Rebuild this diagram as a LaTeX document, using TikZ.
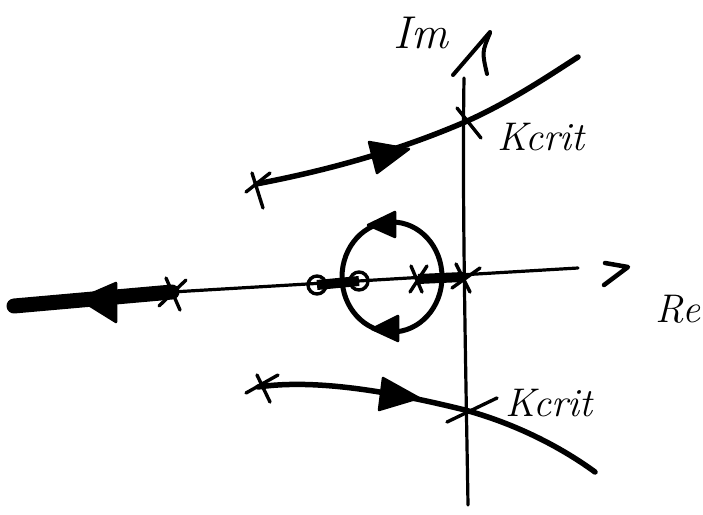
\documentclass[tikz,border=0pt]{standalone}
\usetikzlibrary{calc}
\begin{document}
\begin{tikzpicture}[x=1pt,y=-1pt,
  axisline/.style={line width=3.2pt,line cap=round},
  locus/.style={line width=5.5pt,line cap=round},
  thickseg/.style={line width=10pt},
  polemark/.style={line width=3.4pt,line cap=round},
  zeromark/.style={line width=3.4pt},
  headfill/.style={fill=black,draw=black,line width=2.5pt,line join=round},
  lbl/.style={font=\fontsize{40}{40}\selectfont\itshape,inner sep=0pt}]
\useasboundingbox (0,0) rectangle (703,514);
% key points
\coordinate (pL) at (172,292);
\coordinate (z1) at (317,285);
\coordinate (z2) at (359,281);
\coordinate (p1) at (418,279);
\coordinate (p0) at (463,277);
\coordinate (reEnd) at (578,268);
\coordinate (imTop) at (464,78);
\coordinate (imBot) at (468,505);
\coordinate (kUp) at (465,122);
\coordinate (kLo) at (465,410);
\coordinate (pU) at (256,184);
\coordinate (pD) at (258,387);
\coordinate (uEnd) at (578,57);
\coordinate (dEnd) at (595,472);
\coordinate (lEnd) at (14,306);
% axes
\draw[axisline] (pL) -- (reEnd);
\draw[axisline] (imTop) .. controls (462,200) and (466,380) .. (imBot);
% real axis arrow mark
\draw[line width=4.5pt,line cap=round,line join=round] (605,263) -- (628,267) -- (604,285);
% imaginary axis arrow mark
\draw[line width=4pt,line cap=round] (453,75) -- (490,32);
\draw[line width=4pt,line cap=round] (490,33) .. controls (482,52) .. (487,74);
% thick real-axis branches
\draw[line width=15pt,line cap=round] (lEnd) -- (pL);
\draw[thickseg] (z1) -- (z2);
\draw[thickseg] (p1) -- (p0);
% left arrow
\draw[headfill] (79,299) -- (116,283) -- (116,322) -- cycle;
% loop
\draw[line width=5pt] (392,277) ellipse [x radius=50, y radius=55];
\draw[headfill] (368,225) -- (395,212) -- (395,237) -- cycle;
\draw[headfill] (372,329) -- (398,316) -- (398,341) -- cycle;
% zeros
\draw[zeromark] (z1) circle (9);
\draw[zeromark] (z2) circle (9);
% upper branch
\draw[locus] (pU) .. controls (330,170) and (400,150) .. (kUp) .. controls (510,102) and (550,75) .. (uEnd);
\draw[headfill] (369,142) -- (377,173) -- (409,149) -- cycle;
% lower branch
\draw[locus] (pD) .. controls (320,378) and (400,394) .. (kLo) .. controls (520,425) and (565,450) .. (dEnd);
\draw[headfill] (383,378) -- (379,410) -- (419,398) -- cycle;
% pole crosses
\draw[polemark] (252,173) -- (263,208) (246,192) -- (270,173);
\draw[polemark] (246,393) -- (278,375) (257,375) -- (270,402);
\draw[polemark] (166,278) -- (180,310) (159,306) -- (186,280);
\draw[polemark] (411,266) -- (422,292) (410,292) -- (427,266);
\draw[polemark] (456,264) -- (470,292) (452,288) -- (480,268);
\draw[polemark] (457,108) -- (481,138);
\draw[polemark] (447,422) -- (497,398);
% labels
\node[lbl,font=\fontsize{46}{46}\selectfont\itshape] (lIm) at (421,33) {Im};
\node[lbl] (lRe) at (678,309) {Re};
\node[lbl] (lK1) at (541,137) {Kcrit};
\node[lbl] (lK2) at (549,403) {Kcrit};
\end{tikzpicture}
\end{document}
